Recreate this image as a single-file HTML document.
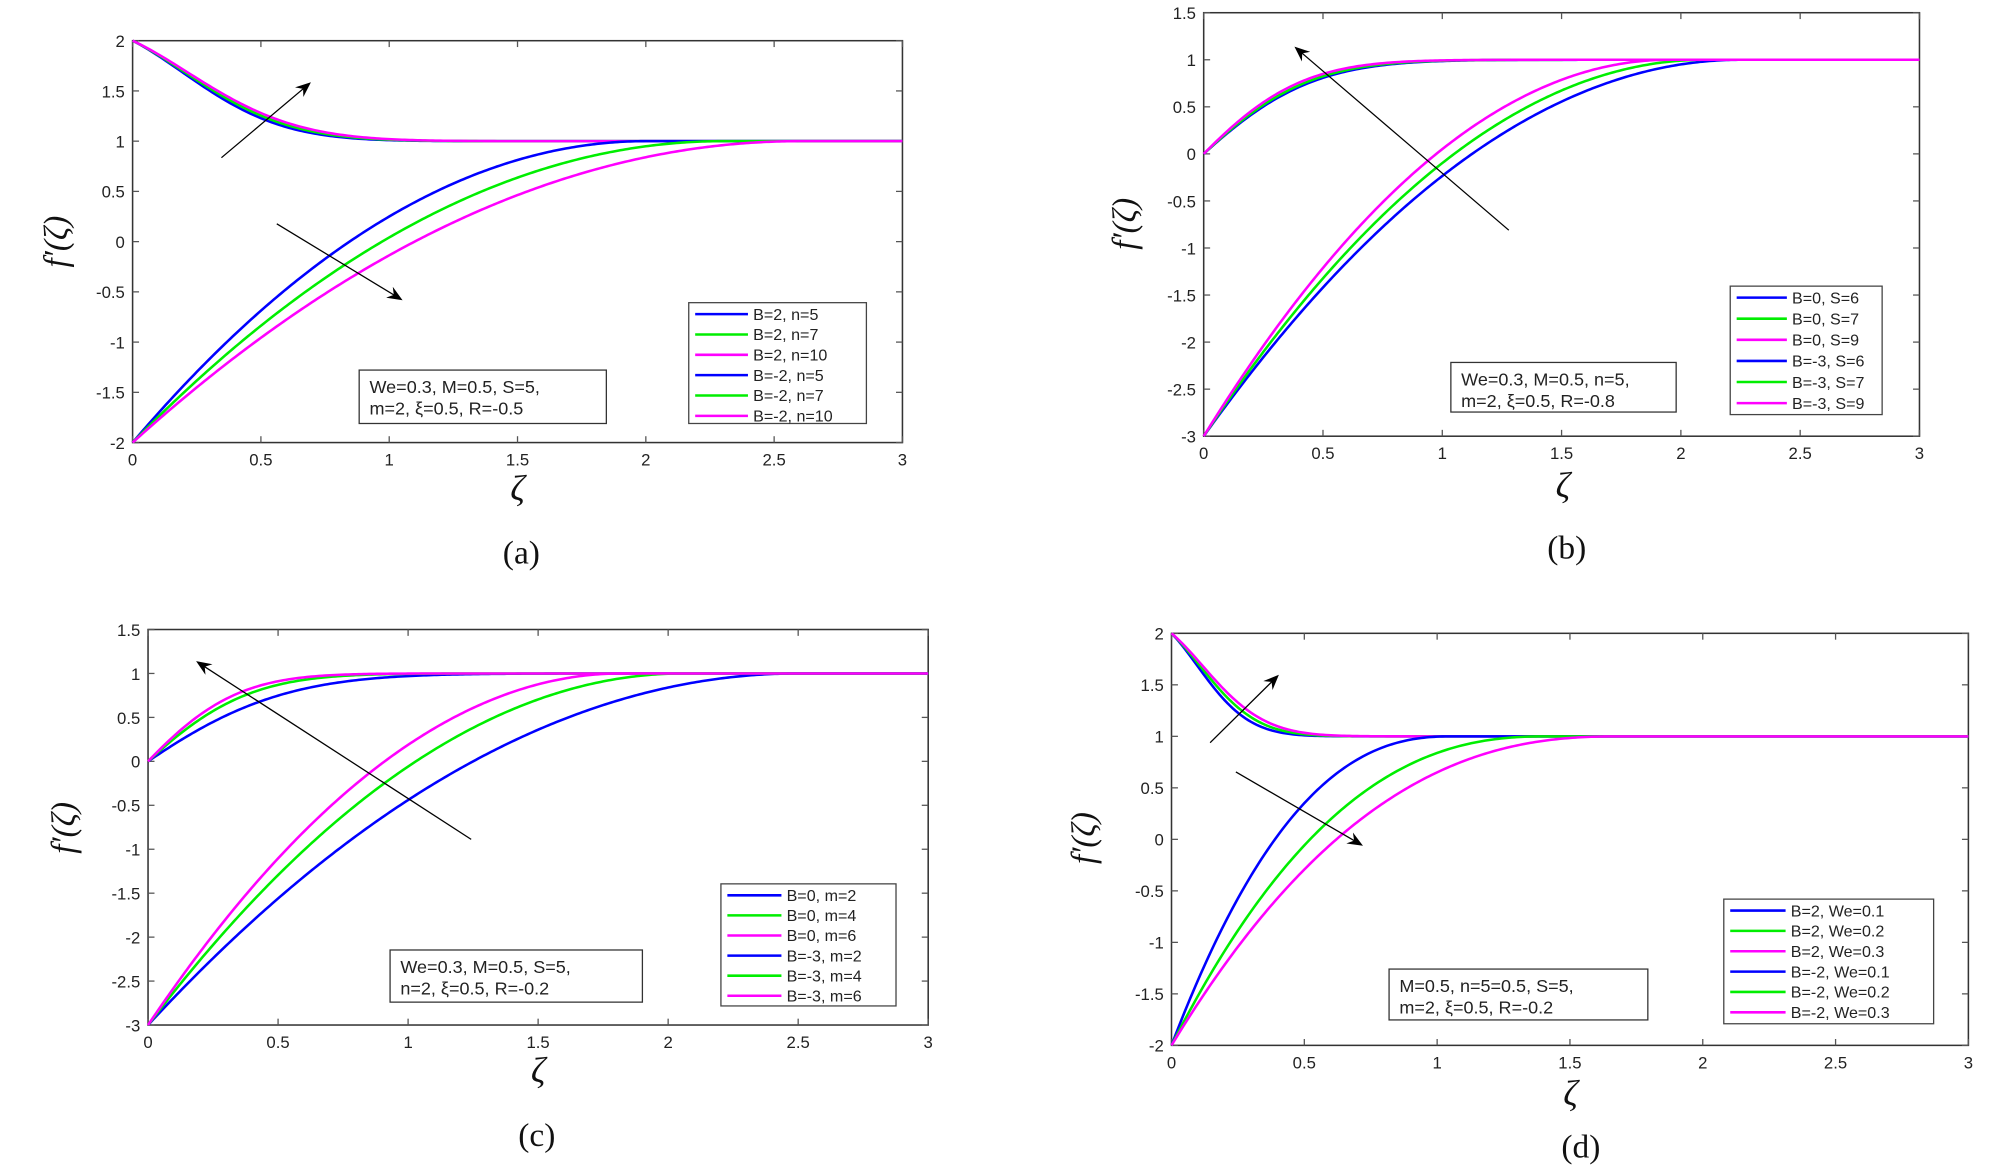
<!DOCTYPE html>
<html><head><meta charset="utf-8"><style>
html,body{margin:0;padding:0;background:#fff;}
svg{display:block;}
</style></head><body>
<svg id="s" width="1998" height="1170" viewBox="0 0 1552 920" preserveAspectRatio="none" xmlns="http://www.w3.org/2000/svg">
<defs><marker id="ah" markerWidth="12" markerHeight="10" refX="10" refY="5" orient="auto" markerUnits="userSpaceOnUse"><path d="M0,0 L12,5 L0,10 L4,5 z" fill="#000"/></marker></defs>
<g id="g"></g>
</svg>
<script>
var NS="http://www.w3.org/2000/svg",G=document.getElementById('g');
var SANS='font-family:"Liberation Sans",sans-serif;fill:#222;',SER='font-family:"Liberation Serif",serif;fill:#111;';
function el(t,a,txt){var e=document.createElementNS(NS,t);for(var k in a)e.setAttribute(k,a[k]);if(txt!=null)e.textContent=txt;G.appendChild(e);return e;}
function panel(p){
 var X=function(t){return p.x0+(p.x1-p.x0)*t/3;},Y=function(v){return p.y0+(p.y1-p.y0)*(p.ymax-v)/(p.ymax-p.ymin);};
 el('rect',{x:p.x0,y:p.y0,width:p.x1-p.x0,height:p.y1-p.y0,fill:'#fff',stroke:'#333','stroke-width':1.2});
 for(var i=0;i<=6;i++){var x=X(i*0.5);el('line',{x1:x,y1:p.y1,x2:x,y2:p.y1-5,stroke:'#555'});el('line',{x1:x,y1:p.y0,x2:x,y2:p.y0+5,stroke:'#555'});
  el('text',{x:x,y:p.y1+18,'text-anchor':'middle',style:SANS+'font-size:13px'},String(i*0.5));}
 for(var v=p.ymin;v<=p.ymax+1e-9;v+=0.5){var y=Y(v);el('line',{x1:p.x0,y1:y,x2:p.x0+5,y2:y,stroke:'#555'});el('line',{x1:p.x1,y1:y,x2:p.x1-5,y2:y,stroke:'#555'});
  el('text',{x:p.x0-6,y:y+5,'text-anchor':'end',style:SANS+'font-size:13px'},String(Math.round(v*10)/10));}
 var cols=['#0000ff','#00ee00','#ff00ff'];
 p.curves.forEach(function(c){var d='';for(var k=0;k<=300;k++){var t=3*k/300;var v=c.f(t);d+=(k?'L':'M')+X(t).toFixed(2)+','+Y(v).toFixed(2);}
  el('path',{d:d,fill:'none',stroke:c.col,'stroke-width':2});});
 el('text',{x:p.xl[0],y:p.xl[1],'text-anchor':'middle',style:SER+'font-style:italic;font-size:28px'},'ζ');
 el('text',{x:0,y:0,'text-anchor':'middle',style:SER+'font-style:italic;font-size:26px',transform:'translate('+p.yl[0]+','+p.yl[1]+') rotate(-90)'},'f′(ζ)');
 el('text',{x:p.cap[0],y:p.cap[1],'text-anchor':'middle',style:SER+'font-size:26px'},p.capt);
 var L=p.leg;el('rect',{x:L.x,y:L.y,width:L.w,height:L.h,fill:'#fff',stroke:'#444'});
 L.items.forEach(function(s,i){var y=L.y+9+i*L.dy;el('line',{x1:L.x+5,y1:y,x2:L.x+5+L.lw,y2:y,stroke:cols[i%3],'stroke-width':2});
  el('text',{x:L.x+9+L.lw,y:y+4.5,style:SANS+'font-size:12.5px'},s);});
 var A=p.ann;el('rect',{x:A.x,y:A.y,width:A.w,height:A.h,fill:'#fff',stroke:'#333'});
 el('text',{x:A.x+8,y:A.y+18,style:SANS+'font-size:14px'},A.t1);el('text',{x:A.x+8,y:A.y+35,style:SANS+'font-size:14px'},A.t2);
 p.arrows.forEach(function(a){el('line',{x1:a[0],y1:a[1],x2:a[2],y2:a[3],stroke:'#000','stroke-width':1,'marker-end':'url(#ah)'});});
}
function E(a,b,c){return function(t){t=t/c;return Math.exp(-a*t-b*t*t);};}
function dec(lo,span,a,b,c,col){var g=E(a,b,c);return {col:col,f:function(t){return lo+span*(1-g(t));}};}
function pw(lo,span,L,p,col){return {col:col,f:function(t){var u=t>=L?0:Math.pow(1-t/L,p);return lo+span*(1-u);}};}
var B='#0000ff',Gn='#00ee00',M='#ff00ff';
// (a)
panel({x0:103,x1:701,y0:32,y1:348,ymin:-2,ymax:2,xl:[402,393],yl:[52,190],cap:[405,443],capt:'(a)',
 curves:[dec(2,-1,1.3,3.3,1,B),dec(2,-1,1.3,3.3,1.05,Gn),dec(2,-1,1.3,3.3,1.1,M),
  pw(-2,3,2.0,2,B),pw(-2,3,2.3,2,Gn),pw(-2,3,2.6,2,M)],
 leg:{x:535,y:238,w:138,h:95,dy:16,lw:41,items:['B=2,  n=5','B=2,  n=7','B=2,  n=10','B=-2, n=5','B=-2, n=7','B=-2, n=10']},
 ann:{x:279,y:291,w:192,h:42,t1:'We=0.3, M=0.5, S=5,',t2:'m=2, ξ=0.5, R=-0.5'},
 arrows:[[172,124,240,66],[215,176,311,235]]});
// (b)
panel({x0:935,x1:1491,y0:10,y1:343,ymin:-3,ymax:1.5,xl:[1214,391],yl:[882,176],cap:[1217,439],capt:'(b)',
 curves:[dec(0,1,2.3,2,1,B),dec(0,1,2.3,2,0.96,Gn),dec(0,1,2.3,2,0.9,M),
  pw(-3,4,2.25,2,B),pw(-3,4,2.1,2,Gn),pw(-3,4,1.95,2,M)],
 leg:{x:1344,y:225,w:118,h:101,dy:16.6,lw:39,items:['B=0,  S=6','B=0,  S=7','B=0,  S=9','B=-3, S=6','B=-3, S=7','B=-3, S=9']},
 ann:{x:1127,y:285,w:175,h:39,t1:'We=0.3, M=0.5, n=5,',t2:'m=2, ξ=0.5, R=-0.8'},
 arrows:[[1172,181,1007,38]]});
// (c)
panel({x0:115,x1:721,y0:495,y1:806,ymin:-3,ymax:1.5,xl:[418,851],yl:[58,651],cap:[417,901],capt:'(c)',
 curves:[dec(0,1,2.3,2,1.15,B),dec(0,1,2.3,2,0.85,Gn),dec(0,1,2.3,2,0.75,M),
  pw(-3,4,2.5,2,B),pw(-3,4,2.06,2,Gn),pw(-3,4,1.82,2,M)],
 leg:{x:560,y:695,w:136,h:96,dy:15.8,lw:42,items:['B=0,  m=2','B=0,  m=4','B=0,  m=6','B=-3, m=2','B=-3, m=4','B=-3, m=6']},
 ann:{x:303,y:747,w:196,h:41,t1:'We=0.3, M=0.5, S=5,',t2:'n=2, ξ=0.5, R=-0.2'},
 arrows:[[366,660,154,521]]});
// (d)
panel({x0:910,x1:1529,y0:498,y1:822,ymin:-2,ymax:2,xl:[1220,869],yl:[850,659],cap:[1228,910],capt:'(d)',
 curves:[dec(2,-1,1.3,3.3,0.5,B),dec(2,-1,1.3,3.3,0.55,Gn),dec(2,-1,1.3,3.3,0.6,M),
  pw(-2,3,1.06,2.4,B),pw(-2,3,1.42,2.4,Gn),pw(-2,3,1.69,2.4,M)],
 leg:{x:1339,y:707,w:163,h:98,dy:16,lw:43,items:['B=2,  We=0.1','B=2,  We=0.2','B=2,  We=0.3','B=-2,  We=0.1','B=-2,  We=0.2','B=-2,  We=0.3']},
 ann:{x:1079,y:762,w:201,h:40,t1:'M=0.5, n=5=0.5, S=5,',t2:'m=2, ξ=0.5, R=-0.2'},
 arrows:[[940,584,992,532],[960,607,1057,664]]});
</script>
</body></html>
